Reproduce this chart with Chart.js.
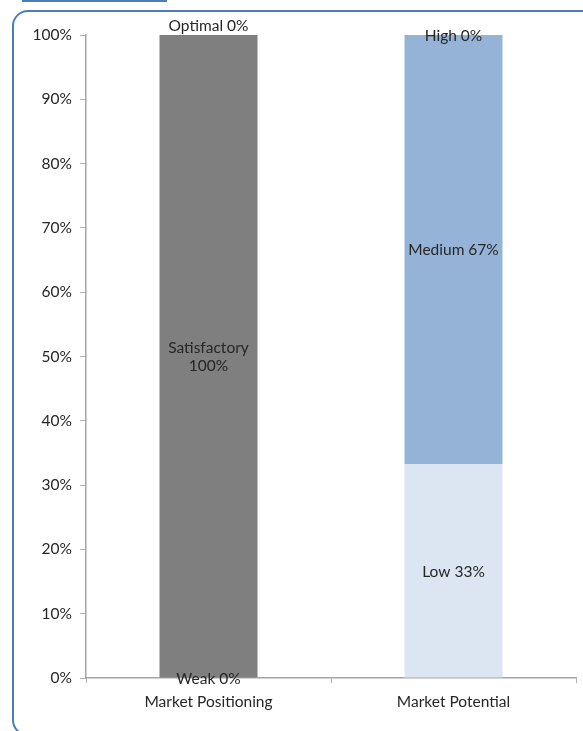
<!DOCTYPE html>
<html>
<head>
<meta charset="utf-8">
<script src="https://cdn.jsdelivr.net/npm/chart.js@4"></script>
<style>
body{margin:0;background:#fff;}
#wrap{position:relative;width:583px;height:731px;overflow:hidden;}
#frame{position:absolute;left:12px;top:10px;width:584px;height:722px;border:2.5px solid #4a7ebb;border-radius:16px;}
#stray{position:absolute;left:22px;top:0;width:145px;height:2px;background:#4a7ebb;}
canvas{position:absolute;left:0;top:0;}
</style>
</head>
<body>
<div id="wrap">
<div id="stray"></div>
<div id="frame"></div>
<canvas id="c" width="583" height="731"></canvas>
</div>
<script>
// stacked percent bars

const categories = ["Market Positioning", "Market Potential"];

// bottom / middle / top levels for each category
const lowNames = ["Weak", "Low"];
const lowValues = [0, 33.3];
const midNames = ["Satisfactory", "Medium"];
const midValues = [100, 66.7];
const topNames = ["Optimal", "High"];
const topValues = [0, 0];

const yTicks = ["0%","10%","20%","30%","40%","50%","60%","70%","80%","90%","100%"];

const labelPlugin = {
id:'segLabels',
afterDatasetsDraw(chart){
const ctx = chart.ctx;
ctx.save();
ctx.font = '15.5px Lato';
ctx.fillStyle = '#262626';
ctx.textAlign = 'center';
ctx.textBaseline = 'middle';
chart.data.datasets.forEach(function(ds, di){
const meta = chart.getDatasetMeta(di);
meta.data.forEach(function(el, i){
const v = ds.data[i];
const text = ds.names[i] + ' ' + Math.round(v) + '%';
let y = (el.y + el.base) / 2;
if (v === 0 && di === 2 && i === 0) y -= 10;
if (di === 1 && i === 0){
ctx.fillText(ds.names[i], el.x, y - 8);
ctx.fillText(Math.round(v) + '%', el.x, y + 10);
} else {
ctx.fillText(text, el.x, y + 1);
}
});
});
ctx.restore();
}
};

new Chart(document.getElementById('c'),{
type:'bar',
data:{
labels:categories,
datasets:[
{names:lowNames, data:lowValues, backgroundColor:["#7f7f7f","#dce6f2"], barPercentage:0.4, categoryPercentage:1},
{names:midNames, data:midValues, backgroundColor:["#7f7f7f","#95b3d7"], barPercentage:0.4, categoryPercentage:1},
{names:topNames, data:topValues, backgroundColor:["#7f7f7f","#95b3d7"], barPercentage:0.4, categoryPercentage:1}
]
},
options:{
responsive:false,
animation:false,
layout:{padding:{left:0,right:7,top:35,bottom:0}},
plugins:{legend:{display:false},tooltip:{enabled:false}},
scales:{
x:{
stacked:true,
afterFit:function(s){ s.height = 53; },
grid:{drawOnChartArea:false, drawTicks:true, tickLength:5, color:'#b3b3b3', offset:true},
border:{color:'#a6a6a6', width:1.5},
ticks:{color:'#262626', font:{family:'Lato', size:15.5}, padding:10}
},
y:{
stacked:true,
min:0,
max:100,
afterFit:function(s){ s.width = 86; },
grid:{drawOnChartArea:false, drawTicks:true, tickLength:6, color:'#b3b3b3'},
border:{color:'#a6a6a6', width:1.5},
ticks:{
stepSize:10,
color:'#262626',
font:{family:'Lato', size:15.5},
padding:8,
callback:function(v){ return yTicks[Math.round(v/10)]; }
}
}
}
},
plugins:[labelPlugin]
});
</script>
</body>
</html>
